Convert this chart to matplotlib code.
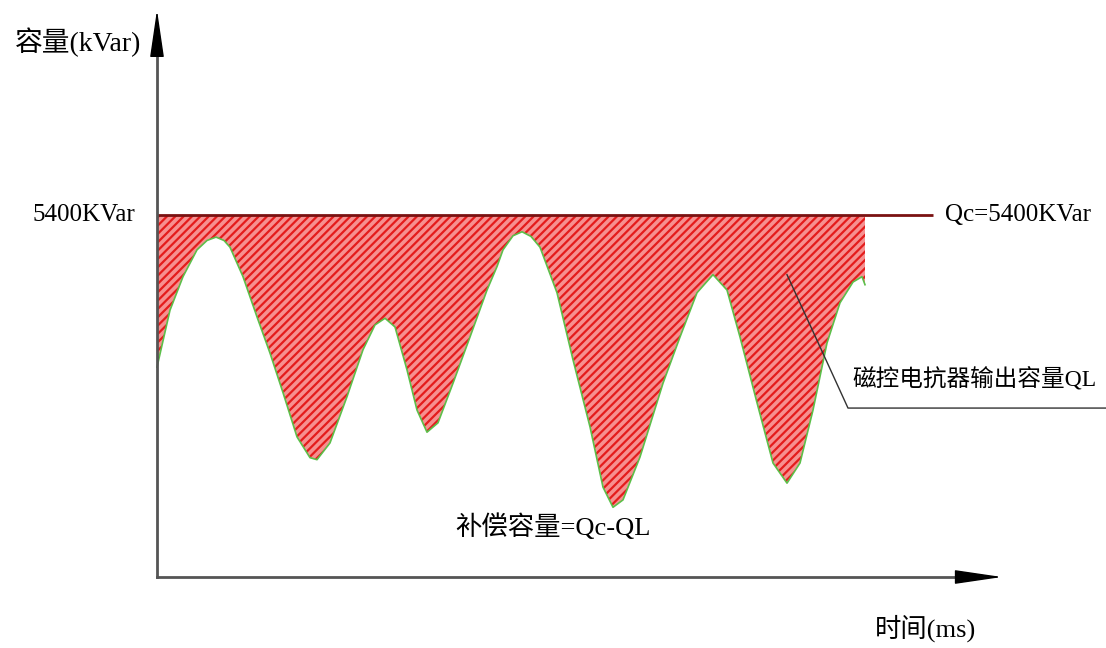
import matplotlib.pyplot as plt

# Daten
zeit_ms = [0.0, 1.3, 2.6, 4.0, 5.0, 5.9, 6.7, 7.3, 8.6, 10.0, 11.3, 12.6, 14.0, 15.3, 16.0,
           17.3, 19.0, 20.6, 21.8, 22.8, 23.8, 25.0, 26.0, 27.0, 28.1, 29.6, 31.3,
           33.0, 34.0, 34.6, 35.6, 36.5, 37.4, 38.3, 40.0, 41.6, 43.3, 44.6, 45.6, 46.6, 48.3,
           50.6, 52.3, 54.0, 55.6, 57.0, 58.3, 60.0, 61.6, 63.0, 64.3, 65.6, 67.0,
           68.3, 69.6, 70.5, 70.8]
ql_kvar = [3130, 3980, 4480, 4880, 5020, 5070, 5020, 4920, 4480, 3880, 3340, 2750, 2090, 1780, 1750,
           2000, 2690, 3390, 3760, 3860, 3730, 3090, 2490, 2160, 2300, 2890, 3580,
           4280, 4630, 4880, 5090, 5150, 5080, 4920, 4240, 3240, 2240, 1340, 1040, 1150, 1790,
           2890, 3580, 4240, 4510, 4280, 3580, 2600, 1700, 1400, 1700, 2490, 3490,
           4090, 4400, 4480, 4360]
qc_kvar = 5400

fonts = ['Liberation Serif', 'Noto Sans CJK SC']
plt.rcParams['hatch.linewidth'] = 1.6

fig = plt.figure(figsize=(11.06, 6.48), dpi=100)
ax = fig.add_axes([0, 0, 1, 1])
ax.set_xlim(-15.7, 94.9)
ax.set_ylim(-1059, 8607)
ax.axis('off')

# Kompensationsflaeche
ax.fill_between(zeit_ms, ql_kvar, qc_kvar, facecolor='#f69090', edgecolor='#e41c1c',
                hatch='////', linewidth=0)
ax.plot(zeit_ms, ql_kvar, color='#5cbf4a', lw=1.2)
ax.hlines(qc_kvar, 0, 77.6, color='#7a1212', lw=2)

# Achsen: graue Linie, schwarze Pfeilspitze
ax.plot([0, 0], [0, 8000], color='#555555', lw=2)
ax.plot([0, 81], [0, 0], color='#555555', lw=2)
spitze = dict(arrowstyle='-|>,head_length=1.5,head_width=0.22', color='black',
              lw=1, mutation_scale=20, shrinkA=0, shrinkB=0)
ax.annotate('', xy=(0, 8460), xytext=(0, 7900), arrowprops=spitze)
ax.annotate('', xy=(84.5, 0), xytext=(80.5, 0), arrowprops=spitze)

# Beschriftungen
ax.text(-14.2, 7980, '容量(kVar)', family=fonts, fontsize=20, va='center')
ax.text(-2.2, 5400, '5400KVar', family=fonts, fontsize=18, va='center', ha='right')
ax.text(78.8, 5400, 'Qc=5400KVar', family=fonts, fontsize=18, va='center')
ax.text(69.5, 2940, '磁控电抗器输出容量QL', family=fonts, fontsize=17, va='center')
ax.text(29.8, 750, '补偿容量=Qc-QL', family=fonts, fontsize=19, va='center')
ax.text(71.8, -760, '时间(ms)', family=fonts, fontsize=19, va='center')

# Hinweislinie
ax.plot([63.0, 69.1, 95], [4510, 2520, 2520], color='#333333', lw=1)

plt.savefig('out.png', dpi=100)
